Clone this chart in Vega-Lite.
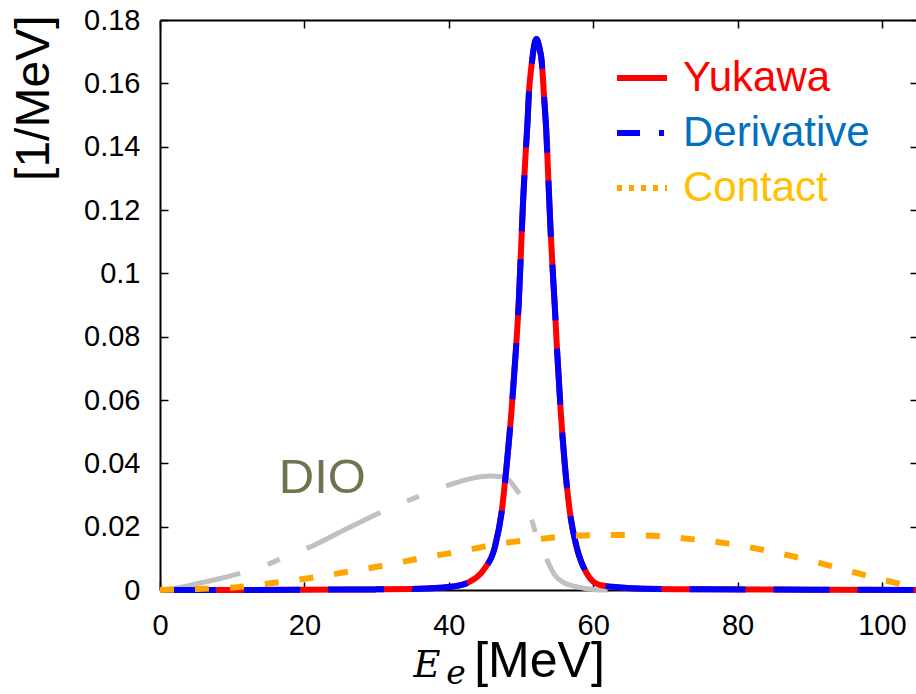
{
  "$schema": "https://vega.github.io/schema/vega-lite/v6.json",
  "width": 758,
  "height": 570,
  "autosize": {"type": "none"},
  "padding": {"left": 160, "top": 20, "right": 0, "bottom": 104},
  "background": "white",
  "config": {
    "view": {"stroke": null},
    "axis": {
      "domainColor": "#000000", "domainWidth": 2, "tickColor": "#000000", "tickWidth": 1.5, "tickSize": -8,
      "grid": false, "labelFont": "Liberation Sans", "labelFontSize": 29, "labelColor": "#000000",
      "titleFont": "Liberation Sans", "titleFontWeight": "normal", "titleColor": "#000000", "zindex": 1
    }
  },
  "datasets": {
    "dio": [
      {"x": 0, "y": 0}, {"x": 2, "y": 0.0005}, {"x": 5.5, "y": 0.0022}, {"x": 8.5, "y": 0.0037},
      {"x": 11.8, "y": 0.0057}, {"x": 15.7, "y": 0.0088}, {"x": 17.3, "y": 0.0104}, {"x": 21.1, "y": 0.0139},
      {"x": 26, "y": 0.0195}, {"x": 31.6, "y": 0.0256}, {"x": 35.3, "y": 0.0291}, {"x": 37.0, "y": 0.0306},
      {"x": 40.9, "y": 0.0338}, {"x": 43.5, "y": 0.0354}, {"x": 45.7, "y": 0.036}, {"x": 47.5, "y": 0.0357},
      {"x": 48.6, "y": 0.034}, {"x": 49.4, "y": 0.0316}, {"x": 51.0, "y": 0.0259}, {"x": 51.7, "y": 0.0205},
      {"x": 52.4, "y": 0.0153}, {"x": 52.9, "y": 0.0132}, {"x": 53.8, "y": 0.0085}, {"x": 54.7, "y": 0.0047},
      {"x": 55.8, "y": 0.0025}, {"x": 57.2, "y": 0.0013}, {"x": 59, "y": 0.0005}, {"x": 60.9, "y": 0}, {"x": 62, "y": 0}
    ],
    "yukawa": [
      {"series": "Yukawa", "x": 0, "y": 0}, {"series": "Yukawa", "x": 10, "y": 0}, {"series": "Yukawa", "x": 20, "y": 0.0001},
      {"series": "Yukawa", "x": 30, "y": 0.0002}, {"series": "Yukawa", "x": 35, "y": 0.0003}, {"series": "Yukawa", "x": 38.8, "y": 0.0007},
      {"series": "Yukawa", "x": 40.6, "y": 0.0011}, {"series": "Yukawa", "x": 42.9, "y": 0.0026}, {"series": "Yukawa", "x": 44.8, "y": 0.0063},
      {"series": "Yukawa", "x": 46.4, "y": 0.0137}, {"series": "Yukawa", "x": 47.3, "y": 0.0242}, {"series": "Yukawa", "x": 48.0, "y": 0.0389},
      {"series": "Yukawa", "x": 48.7, "y": 0.0568}, {"series": "Yukawa", "x": 49.3, "y": 0.0758}, {"series": "Yukawa", "x": 49.7, "y": 0.091},
      {"series": "Yukawa", "x": 50.0, "y": 0.107}, {"series": "Yukawa", "x": 50.3, "y": 0.123}, {"series": "Yukawa", "x": 50.6, "y": 0.136},
      {"series": "Yukawa", "x": 50.9, "y": 0.1474}, {"series": "Yukawa", "x": 51.1, "y": 0.1568}, {"series": "Yukawa", "x": 51.5, "y": 0.1663},
      {"series": "Yukawa", "x": 51.8, "y": 0.1715}, {"series": "Yukawa", "x": 52.15, "y": 0.174}, {"series": "Yukawa", "x": 52.5, "y": 0.1718},
      {"series": "Yukawa", "x": 52.9, "y": 0.1663}, {"series": "Yukawa", "x": 53.2, "y": 0.1558}, {"series": "Yukawa", "x": 53.5, "y": 0.1453},
      {"series": "Yukawa", "x": 53.8, "y": 0.1295}, {"series": "Yukawa", "x": 54.1, "y": 0.1137}, {"series": "Yukawa", "x": 54.5, "y": 0.0969},
      {"series": "Yukawa", "x": 54.7, "y": 0.089}, {"series": "Yukawa", "x": 55.0, "y": 0.0758}, {"series": "Yukawa", "x": 55.5, "y": 0.0568},
      {"series": "Yukawa", "x": 56.1, "y": 0.0389}, {"series": "Yukawa", "x": 56.8, "y": 0.0242}, {"series": "Yukawa", "x": 57.7, "y": 0.0137},
      {"series": "Yukawa", "x": 59.1, "y": 0.0053}, {"series": "Yukawa", "x": 60.9, "y": 0.0016}, {"series": "Yukawa", "x": 63.7, "y": 0.0008},
      {"series": "Yukawa", "x": 67, "y": 0.0004}, {"series": "Yukawa", "x": 75, "y": 0.0002}, {"series": "Yukawa", "x": 90, "y": 0.0001},
      {"series": "Yukawa", "x": 105, "y": 0}
    ],
    "derivative": [
      {"series": "Derivative", "x": 0, "y": 0}, {"series": "Derivative", "x": 10, "y": 0}, {"series": "Derivative", "x": 20, "y": 0.0001},
      {"series": "Derivative", "x": 30, "y": 0.0002}, {"series": "Derivative", "x": 35, "y": 0.0003}, {"series": "Derivative", "x": 38.8, "y": 0.0007},
      {"series": "Derivative", "x": 40.6, "y": 0.0011}, {"series": "Derivative", "x": 42.9, "y": 0.0026}, {"series": "Derivative", "x": 44.8, "y": 0.0063},
      {"series": "Derivative", "x": 46.4, "y": 0.0137}, {"series": "Derivative", "x": 47.3, "y": 0.0242}, {"series": "Derivative", "x": 48.0, "y": 0.0389},
      {"series": "Derivative", "x": 48.7, "y": 0.0568}, {"series": "Derivative", "x": 49.3, "y": 0.0758}, {"series": "Derivative", "x": 49.7, "y": 0.091},
      {"series": "Derivative", "x": 50.0, "y": 0.107}, {"series": "Derivative", "x": 50.3, "y": 0.123}, {"series": "Derivative", "x": 50.6, "y": 0.136},
      {"series": "Derivative", "x": 50.9, "y": 0.1474}, {"series": "Derivative", "x": 51.1, "y": 0.1568}, {"series": "Derivative", "x": 51.5, "y": 0.1663},
      {"series": "Derivative", "x": 51.8, "y": 0.1715}, {"series": "Derivative", "x": 52.15, "y": 0.174}, {"series": "Derivative", "x": 52.5, "y": 0.1718},
      {"series": "Derivative", "x": 52.9, "y": 0.1663}, {"series": "Derivative", "x": 53.2, "y": 0.1558}, {"series": "Derivative", "x": 53.5, "y": 0.1453},
      {"series": "Derivative", "x": 53.8, "y": 0.1295}, {"series": "Derivative", "x": 54.1, "y": 0.1137}, {"series": "Derivative", "x": 54.5, "y": 0.0969},
      {"series": "Derivative", "x": 54.7, "y": 0.089}, {"series": "Derivative", "x": 55.0, "y": 0.0758}, {"series": "Derivative", "x": 55.5, "y": 0.0568},
      {"series": "Derivative", "x": 56.1, "y": 0.0389}, {"series": "Derivative", "x": 56.8, "y": 0.0242}, {"series": "Derivative", "x": 57.7, "y": 0.0137},
      {"series": "Derivative", "x": 59.1, "y": 0.0053}, {"series": "Derivative", "x": 60.9, "y": 0.0016}, {"series": "Derivative", "x": 63.7, "y": 0.0008},
      {"series": "Derivative", "x": 67, "y": 0.0004}, {"series": "Derivative", "x": 75, "y": 0.0002}, {"series": "Derivative", "x": 90, "y": 0.0001},
      {"series": "Derivative", "x": 105, "y": 0}
    ],
    "contact": [
      {"series": "Contact", "x": 0, "y": 0}, {"series": "Contact", "x": 5, "y": 0.0003}, {"series": "Contact", "x": 10.7, "y": 0.0009},
      {"series": "Contact", "x": 15.6, "y": 0.0022}, {"series": "Contact", "x": 20.8, "y": 0.0038}, {"series": "Contact", "x": 26.6, "y": 0.006},
      {"series": "Contact", "x": 31.4, "y": 0.0079}, {"series": "Contact", "x": 36.3, "y": 0.0101}, {"series": "Contact", "x": 41.8, "y": 0.0123},
      {"series": "Contact", "x": 47.5, "y": 0.0148}, {"series": "Contact", "x": 52.6, "y": 0.0161}, {"series": "Contact", "x": 57.1, "y": 0.0171},
      {"series": "Contact", "x": 62.6, "y": 0.0174}, {"series": "Contact", "x": 68.4, "y": 0.0171}, {"series": "Contact", "x": 73.4, "y": 0.0161},
      {"series": "Contact", "x": 78.3, "y": 0.0148}, {"series": "Contact", "x": 83.7, "y": 0.0126}, {"series": "Contact", "x": 89.2, "y": 0.0098},
      {"series": "Contact", "x": 94.0, "y": 0.0069}, {"series": "Contact", "x": 98.6, "y": 0.0041}, {"series": "Contact", "x": 103.9, "y": 0.0009},
      {"series": "Contact", "x": 105, "y": 0}
    ]
  },
  "layer": [
    {
      "data": {"name": "dio"},
      "mark": {"type": "line", "color": "#C0C0C0", "strokeWidth": 5, "strokeDash": [82, 29, 13, 29], "interpolate": "monotone"},
      "encoding": {
        "x": {"field": "x", "type": "quantitative", "scale": {"domain": [0, 105], "nice": false, "zero": false},
          "axis": {"values": [0, 20, 40, 60, 80, 100], "labelPadding": 29, "labelFlush": false, "labelDx": 3,
            "title": "[MeV]", "titleFontSize": 50, "titleBaseline": "alphabetic", "titleY": 86}},
        "y": {"field": "y", "type": "quantitative", "scale": {"domain": [0, 0.18], "nice": false, "zero": false},
          "axis": {"values": [0, 0.02, 0.04, 0.06, 0.08, 0.1, 0.12, 0.14, 0.16, 0.18], "format": "~g", "labelPadding": 28,
            "title": "[1/MeV]", "titleFontSize": 48, "titleAngle": -90, "titleAlign": "right", "titleAnchor": "end",
            "titleBaseline": "alphabetic", "titleX": -112, "titleY": -5}}
      }
    },
    {
      "data": {"name": "yukawa"},
      "mark": {"type": "line", "strokeWidth": 6, "interpolate": "monotone"},
      "encoding": {
        "x": {"field": "x", "type": "quantitative", "axis": {"orient": "top", "values": [0, 20, 40, 60, 80, 100], "labels": false, "title": null}},
        "y": {"field": "y", "type": "quantitative", "axis": {"orient": "right", "values": [0, 0.02, 0.04, 0.06, 0.08, 0.1, 0.12, 0.14, 0.16, 0.18], "labels": false, "title": null}},
        "color": {"field": "series", "type": "nominal",
          "scale": {"domain": ["Yukawa", "Derivative", "Contact"], "range": ["#FF0000", "#0000FF", "#FFA500"]},
          "legend": {"orient": "none", "legendX": 454, "legendY": 30, "title": null, "symbolType": "stroke", "symbolSize": 2500,
            "symbolStrokeWidth": 6, "labelFont": "Liberation Sans", "labelFontSize": 42, "labelOffset": 13, "labelLimit": 400,
            "rowPadding": 6, "padding": 0,
            "encode": {
              "symbols": {"update": {
                "stroke": {"signal": "datum.value === 'Derivative' ? '#0070C0' : datum.value === 'Contact' ? '#FFC000' : '#FF0000'"},
                "strokeDash": {"signal": "datum.value === 'Derivative' ? [23, 19, 5, 100] : datum.value === 'Contact' ? [5, 7] : [1, 0]"}}},
              "labels": {"update": {
                "fill": {"signal": "datum.value === 'Derivative' ? '#0070C0' : datum.value === 'Contact' ? '#FFC000' : '#FF0000'"}}}
            }}}
      }
    },
    {
      "data": {"name": "derivative"},
      "mark": {"type": "line", "strokeWidth": 6, "strokeDash": [56, 28], "interpolate": "monotone"},
      "encoding": {
        "x": {"field": "x", "type": "quantitative", "axis": null},
        "y": {"field": "y", "type": "quantitative", "axis": null},
        "color": {"field": "series", "type": "nominal"}
      }
    },
    {
      "data": {"name": "contact"},
      "mark": {"type": "line", "strokeWidth": 6, "strokeDash": [14, 21], "interpolate": "monotone"},
      "encoding": {
        "x": {"field": "x", "type": "quantitative", "axis": null},
        "y": {"field": "y", "type": "quantitative", "axis": null},
        "color": {"field": "series", "type": "nominal"}
      }
    },
    {
      "data": {"values": [{"label": "DIO"}]},
      "mark": {"type": "text", "font": "Liberation Sans", "fontSize": 49, "color": "#727251", "align": "center", "baseline": "alphabetic", "clip": false},
      "encoding": {
        "text": {"field": "label"},
        "x": {"datum": 22.5, "type": "quantitative", "axis": null},
        "y": {"datum": 0.0305, "type": "quantitative", "axis": null}
      }
    },
    {
      "data": {"values": [{"label": "E"}]},
      "mark": {"type": "text", "font": "DejaVu Serif", "fontStyle": "italic", "fontSize": 37, "color": "#000000", "align": "center", "baseline": "alphabetic", "clip": false},
      "encoding": {
        "text": {"field": "label"},
        "x": {"datum": 37.0, "type": "quantitative", "axis": null},
        "y": {"datum": -0.0275, "type": "quantitative", "axis": null}
      }
    },
    {
      "data": {"values": [{"label": "e"}]},
      "mark": {"type": "text", "font": "DejaVu Serif", "fontStyle": "italic", "fontSize": 33, "color": "#000000", "align": "center", "baseline": "alphabetic", "clip": false},
      "encoding": {
        "text": {"field": "label"},
        "x": {"datum": 41.0, "type": "quantitative", "axis": null},
        "y": {"datum": -0.0296, "type": "quantitative", "axis": null}
      }
    }
  ],
  "resolve": {"axis": {"x": "independent", "y": "independent"}}
}
